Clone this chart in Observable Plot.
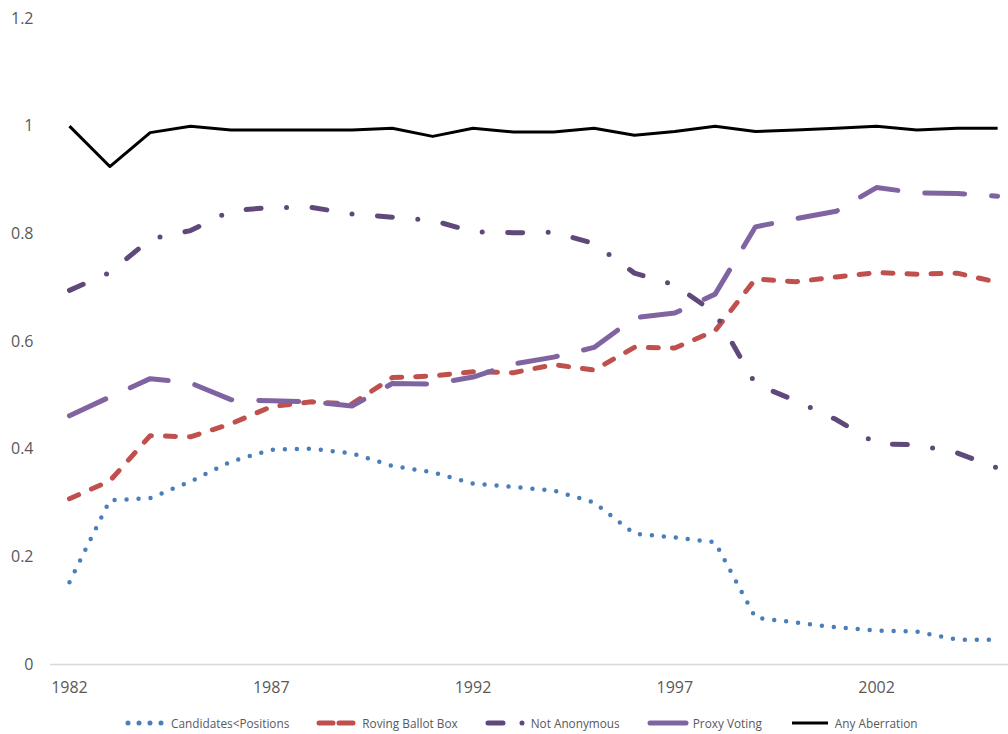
<!DOCTYPE html>
<html>
<head>
<meta charset="utf-8">
<script src="https://cdn.jsdelivr.net/npm/d3@7"></script>
<script src="https://cdn.jsdelivr.net/npm/@observablehq/plot@0.6"></script>
<style>
  html, body { margin: 0; padding: 0; background: #fff; }
  #wrap { position: relative; width: 1008px; height: 734px; font-family: "Open Sans", "Noto Sans", sans-serif; }
  #legend { position: absolute; top: 714px; left: 125px; height: 18px; display: flex; align-items: center; gap: 27px;
            font-size: 11.8px; color: #595959; white-space: nowrap; }
  .item { display: flex; align-items: center; }
  .item svg { display: block; margin-right: 4px; }
</style>
</head>
<body>
<div id="wrap">
  <div id="chart"></div>
  <div id="legend"></div>
</div>
<script>
const years = [1982,1983,1984,1985,1986,1987,1988,1989,1990,1991,1992,1993,1994,1995,1996,1997,1998,1999,2000,2001,2002,2003,2004,2005];

const candidatesLtPositions = [0.153,0.305,0.309,0.340,0.377,0.399,0.401,0.392,0.369,0.357,0.336,0.330,0.323,0.301,0.243,0.236,0.227,0.087,0.078,0.069,0.063,0.061,0.046,0.046];
const rovingBallotBox      = [0.308,0.341,0.425,0.423,0.447,0.479,0.488,0.484,0.533,0.536,0.544,0.542,0.557,0.547,0.589,0.588,0.620,0.716,0.711,0.720,0.728,0.725,0.727,0.710];
const notAnonymous         = [0.695,0.728,0.790,0.806,0.843,0.849,0.849,0.837,0.831,0.825,0.804,0.802,0.803,0.782,0.727,0.705,0.653,0.521,0.490,0.455,0.410,0.408,0.393,0.365];
const proxyVoting          = [0.462,0.497,0.531,0.523,0.492,0.490,0.488,0.480,0.522,0.521,0.534,0.558,0.571,0.589,0.644,0.653,0.688,0.813,0.828,0.842,0.886,0.876,0.875,0.870];
const anyAberration        = [1.000,0.925,0.988,1.000,0.993,0.993,0.993,0.993,0.996,0.981,0.996,0.989,0.989,0.996,0.983,0.990,1.000,0.990,0.993,0.996,1.000,0.993,0.996,0.996];

const xTicks = [1982,1987,1992,1997,2002];
const yTicks = [0,0.2,0.4,0.6,0.8,1,1.2];

const seriesNames = ["Candidates<Positions","Roving Ballot Box","Not Anonymous","Proxy Voting","Any Aberration"];
const seriesValues = [candidatesLtPositions, rovingBallotBox, notAnonymous, proxyVoting, anyAberration];
const seriesColors = ["#4a7ebb","#c0504d","#5f497a","#8064a2","#000000"];
const seriesWidths = [4.5,5,5,5,3];
const seriesDash = ["0,12","10,14","15,25.5,0,25.5","40,27",null];
const legendDash = ["0,11","14,6","15,19,0,40",null,null];

const rowsFor = (vals) => years.map((year, i) => ({year, value: vals[i]}));

const lineMarks = seriesValues.map((vals, k) => Plot.line(rowsFor(vals), {
  x: "year", y: "value",
  stroke: seriesColors[k],
  strokeWidth: seriesWidths[k],
  strokeDasharray: seriesDash[k] || undefined,
  strokeLinecap: k === 4 ? "butt" : "round",
  strokeLinejoin: "round"
}));

const chart = Plot.plot({
  width: 1008,
  height: 700,
  marginLeft: 50,
  marginRight: 0,
  marginTop: 18,
  marginBottom: 36,
  style: {fontFamily: '"Open Sans", "Noto Sans", sans-serif', fontSize: "16px", color: "#595959", background: "#fff"},
  x: {domain: [1981.53, 2005.27]},
  y: {domain: [0, 1.2]},
  marks: [
    Plot.ruleY([0], {stroke: "#d9d9d9", strokeWidth: 1.5}),
    Plot.axisX({ticks: xTicks, tickFormat: d => String(d), tickSize: 0, tickPadding: 17, label: null, fill: "#595959"}),
    Plot.axisY({ticks: yTicks, tickFormat: d => String(d), tickSize: 0, tickPadding: 17, label: null, fill: "#595959"}),
    ...lineMarks
  ]
});
document.getElementById("chart").appendChild(chart);

// Legend
const legend = d3.select("#legend");
seriesNames.forEach((name, k) => {
  const item = legend.append("div").attr("class", "item");
  const svg = item.append("svg").attr("width", 42).attr("height", 12);
  svg.append("line")
    .attr("x1", 3).attr("x2", 39).attr("y1", 6).attr("y2", 6)
    .attr("stroke", seriesColors[k])
    .attr("stroke-width", k === 4 ? 3 : 5)
    .attr("stroke-linecap", k === 4 ? "butt" : "round")
    .attr("stroke-dasharray", legendDash[k]);
  item.append("span").text(name);
});
</script>
</body>
</html>
